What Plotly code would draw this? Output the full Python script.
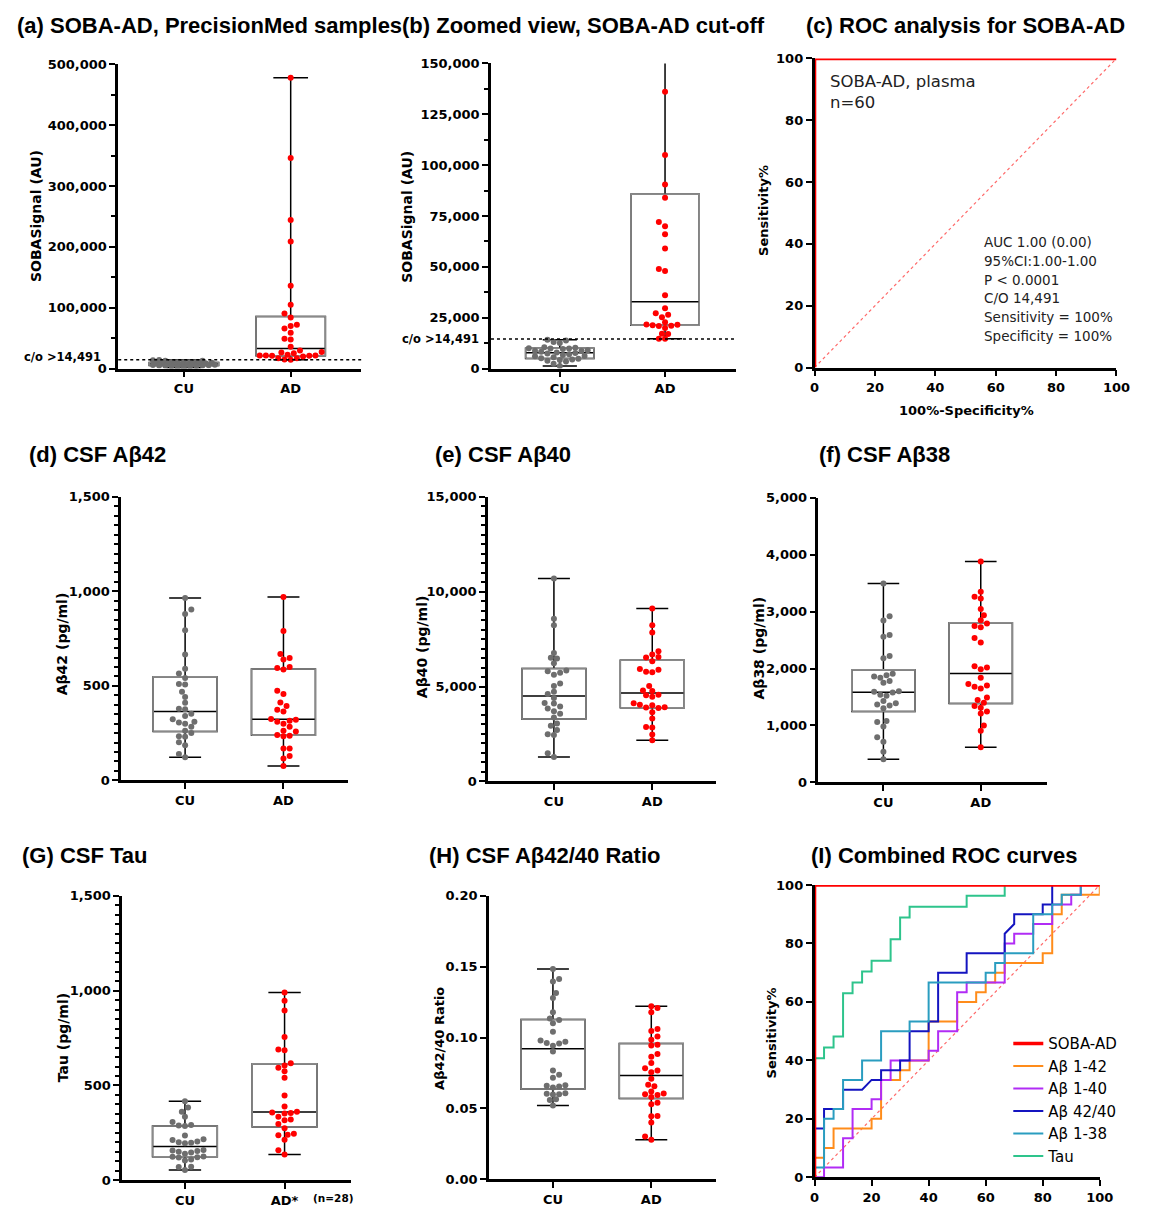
import numpy as np
import plotly.graph_objects as go

# page is 1159x1219; the browser adds an 8px body margin, so the figure is drawn inside it
PAGE_W, PAGE_H = 1159, 1219
OFF = 8
FW, FH = PAGE_W - OFF, PAGE_H - 2 * OFF

# ---------------- data ----------------
groups = ["CU", "AD"]
groups_tau = ["CU", "AD*"]
CUTOFF = 14491

soba_cu = [14200, 13800, 13000, 12600, 10500, 10200, 10000, 9900, 9800, 9600, 9000, 8800, 8600, 8200, 7900,
           7600, 7400, 7000, 6600, 6200, 6000, 5600, 5000, 4800, 4500, 4200, 3800, 3500, 2400, 1300]
soba_ad = [478000, 346000, 244000, 209000, 136000, 105000, 90500, 84000, 72000, 70000, 66000, 59000, 48900,
           47900, 36000, 29600, 27200, 26400, 25200, 22800, 21600, 21500, 21300, 21000, 20900, 19900, 17100,
           17000, 14700, 14600]

ab42_cu = [122, 139, 186, 202, 231, 233, 250, 262, 283, 300, 306, 310, 323, 340, 353, 376, 379, 410, 441, 469,
           507, 510, 542, 565, 591, 666, 794, 881, 904, 965]
ab42_ad = [76, 116, 129, 169, 169, 233, 236, 240, 258, 263, 283, 300, 310, 315, 321, 325, 365, 374, 393, 412,
           457, 474, 587, 595, 600, 640, 648, 669, 791, 970]

ab40_cu = [1285, 1476, 2450, 2480, 2708, 2934, 3055, 3368, 3559, 3700, 3837, 3941, 4100, 4130, 4400, 4600, 4722,
           5034, 5156, 5625, 5730, 5800, 5850, 6232, 6480, 6520, 6770, 8229, 8576, 10694]
ab40_ad = [2170, 2465, 2835, 2860, 3316, 3646, 3870, 3889, 3910, 4015, 4040, 4114, 4462, 4540, 4560, 4760, 4790,
           5034, 5750, 5780, 5880, 5920, 6336, 6530, 6560, 6684, 6857, 7847, 8229, 9114]

ab38_cu = [405, 538, 711, 792, 983, 1060, 1080, 1300, 1350, 1370, 1390, 1428, 1520, 1540, 1580, 1590, 1600,
           1750, 1780, 1840, 1860, 1880, 1910, 2180, 2220, 2560, 2590, 2844, 2919, 3497]
ab38_ad = [618, 907, 1000, 1208, 1243, 1310, 1340, 1400, 1445, 1490, 1650, 1680, 1700, 1730, 1838, 1988, 2020,
           2040, 2457, 2537, 2728, 2750, 2790, 2850, 2936, 3046, 3230, 3260, 3352, 3884]

tau_cu = [54, 70, 72, 105, 110, 120, 122, 124, 126, 140, 146, 150, 155, 157, 160, 196, 198, 200, 205, 212, 216,
          236, 286, 289, 292, 308, 335, 362, 384, 417]
tau_ad = [136, 158, 214, 238, 240, 245, 275, 297, 316, 320, 335, 352, 355, 358, 362, 389, 447, 541, 575, 593,
          605, 617, 686, 690, 756, 895, 947, 991]

ratio_cu = [0.0521, 0.0560, 0.0565, 0.0598, 0.0600, 0.0604, 0.0608, 0.0648, 0.0655, 0.0660, 0.0663, 0.0716,
            0.0737, 0.0767, 0.0902, 0.0942, 0.0958, 0.0962, 0.0970, 0.0980, 0.1042, 0.1102, 0.1125, 0.1135,
            0.1179, 0.1279, 0.1314, 0.1395, 0.1414, 0.1484]
ratio_ad = [0.0279, 0.0302, 0.0400, 0.0445, 0.0447, 0.0530, 0.0540, 0.0580, 0.0595, 0.0600, 0.0605, 0.0620,
            0.0656, 0.0667, 0.0709, 0.0756, 0.0767, 0.0784, 0.0821, 0.0865, 0.0884, 0.0944, 0.0950, 0.0984,
            0.1007, 0.1046, 0.1060, 0.1179, 0.1209, 0.1221]

# ROC curves (100%-Specificity%, Sensitivity%)
roc_soba_x = [0, 0, 100]
roc_soba_y = [0, 100, 100]
roc_ab42_x = [0, 0, 3.33, 3.33, 6.67, 6.67, 20, 20, 23.33, 23.33, 30, 30, 33.33, 33.33, 40, 40, 50, 50, 56.67,
              56.67, 60, 60, 63.33, 63.33, 66.67, 66.67, 80, 80, 83.33, 83.33, 86.67, 86.67, 100, 100]
roc_ab42_y = [0, 6.67, 6.67, 10, 10, 16.67, 16.67, 20, 20, 33.33, 33.33, 36.67, 36.67, 40, 40, 53.33, 53.33, 60,
              60, 63.33, 63.33, 66.67, 66.67, 70, 70, 73.33, 73.33, 76.67, 76.67, 90, 90, 96.67, 96.67, 100]
roc_ab40_x = [0, 3.33, 3.33, 10, 10, 13.33, 13.33, 20, 20, 23.33, 23.33, 26.67, 26.67, 40, 40, 43.33, 43.33, 50,
              50, 53.33, 53.33, 66.67, 66.67, 70, 70, 76.67, 76.67, 83.33, 83.33, 90, 90, 93.33, 93.33, 100]
roc_ab40_y = [0, 0, 3.33, 3.33, 13.33, 13.33, 23.33, 23.33, 26.67, 26.67, 33.33, 33.33, 40, 40, 43.33, 43.33,
              50, 50, 63.33, 63.33, 66.67, 66.67, 80, 80, 83.33, 83.33, 86.67, 86.67, 93.33, 93.33, 96.67,
              96.67, 100, 100]
roc_ratio_x = [0, 0, 3.33, 3.33, 10, 10, 16.67, 20, 23.33, 23.33, 30, 30, 33.33, 33.33, 40, 40, 43.33, 43.33,
               53.33, 53.33, 66.67, 66.67, 70, 70, 80, 80, 83.33, 83.33, 100]
roc_ratio_y = [0, 16.67, 16.67, 23.33, 23.33, 30, 30, 33.33, 33.33, 36.67, 36.67, 40, 40, 50, 50, 53.33, 53.33,
               70, 70, 76.67, 76.67, 83.33, 86.67, 90, 90, 93.33, 93.33, 100, 100]
roc_ab38_x = [0, 0, 3.33, 3.33, 6.67, 6.67, 10, 10, 16.67, 16.67, 23.33, 23.33, 33.33, 33.33, 40, 40, 60, 60,
              63.33, 63.33, 66.67, 66.67, 76.67, 76.67, 83.33, 83.33, 86.67, 86.67, 93.33, 93.33, 100]
roc_ab38_y = [0, 3.33, 3.33, 20, 20, 23.33, 23.33, 33.33, 33.33, 40, 40, 50, 50, 53.33, 53.33, 66.67, 66.67, 70,
              70, 73.33, 73.33, 76.67, 76.67, 90, 90, 93.33, 93.33, 96.67, 96.67, 100, 100]
roc_tau_x = [0, 0, 3.33, 3.33, 6.67, 6.67, 10, 10, 13.33, 13.33, 16.67, 16.67, 20, 20, 26.67, 26.67, 30, 30,
             33.33, 33.33, 53.33, 53.33, 66.67, 66.67, 100]
roc_tau_y = [0, 40.74, 40.74, 44.44, 44.44, 48.15, 48.15, 62.96, 62.96, 66.67, 66.67, 70.37, 70.37, 74.07,
             74.07, 81.48, 81.48, 88.89, 88.89, 92.59, 92.59, 96.30, 96.30, 100, 100]
IDENTITY = [0, 100]

soba_stats = ["AUC 1.00 (0.00)", "95%CI:1.00-1.00", "P < 0.0001", "C/O 14,491",
              "Sensitivity = 100%", "Specificity = 100%"]

# ---------------- styling ----------------
RED = "#ff0000"
GRAY = "#6e6e6e"
EDGE = "#8a8a8a"
BOXW = 0.65
TICKFONT = dict(family="DejaVu Sans", size=13, color="black", weight="bold")
TITLEFONT = dict(family="Liberation Sans", size=22, color="black")
BOTTOM_SHIFT = 3   # bottom row nudged up so its labels stay inside the page


def adj_y(y):
    return y - BOTTOM_SHIFT if y > 840 else y


def fx(x):
    return (x - OFF) / FW


def fy(y):
    return 1 - (adj_y(y) - OFF) / FH


def swarm_offsets(values, ppu_y, ppu_x, d=6.3, maxw=34):
    """Bee-swarm horizontal offsets (pixel space) converted to data units."""
    v = np.asarray(values, float)
    ys = v * ppu_y
    order = np.argsort(ys)
    py_l, px_l = [], []
    out = np.zeros(len(v))
    step = d / 2
    flip = 1
    kmax = int(maxw / step)
    for i in order:
        best, best_score = 0.0, -1
        chosen = None
        for k in range(kmax + 1):
            cands = [0.0] if k == 0 else [flip * k * step, -flip * k * step]
            for c in cands:
                dmin = min([(a - ys[i]) ** 2 + (b - c) ** 2 for a, b in zip(py_l, px_l)] or [1e9])
                if dmin >= 0.8 * d * d:
                    chosen = c
                    break
                if dmin > best_score:
                    best, best_score = c, dmin
            if chosen is not None:
                break
        if chosen is None:
            chosen = best
        flip = -flip
        out[i] = chosen
        py_l.append(ys[i])
        px_l.append(chosen)
    return out / ppu_x


fig = go.Figure()
layout = dict(width=FW, height=FH, autosize=False, margin=dict(l=0, r=0, t=0, b=0), paper_bgcolor="white",
              plot_bgcolor="white", showlegend=True)

axis_base = dict(showline=True, linecolor="black", linewidth=2.5, ticks="outside", ticklen=6, tickwidth=2,
                 tickcolor="black", showgrid=False, zeroline=False, tickfont=TICKFONT, fixedrange=True)

box_panels = [
    dict(ax=1, box=(115, 58, 362, 366), xr=[-0.615, 1.66], yr=[0, 500000], dtick=100000, minor=50000,
         fmt=",d", cu=soba_cu, ad=soba_ad, labels=groups),
    dict(ax=2, box=(494, 57, 743, 366), xr=[-0.654, 1.673], yr=[0, 150000], dtick=25000, minor=12500,
         fmt=",d", cu=soba_cu, ad=soba_ad, labels=groups),
    dict(ax=4, box=(118, 496, 349, 783), xr=[-0.65, 1.66], yr=[0, 1500], dtick=500, minor=50,
         fmt=",d", cu=ab42_cu, ad=ab42_ad, labels=groups),
    dict(ax=5, box=(491, 496, 723, 784), xr=[-0.67, 1.65], yr=[0, 15000], dtick=5000, minor=500,
         fmt=",d", cu=ab40_cu, ad=ab40_ad, labels=groups),
    dict(ax=6, box=(827, 497, 1059, 785), xr=[-0.667, 1.677], yr=[0, 5000], dtick=1000, minor=None,
         fmt=",d", cu=ab38_cu, ad=ab38_ad, labels=groups),
    dict(ax=7, box=(119, 903, 352, 1191), xr=[-0.63, 1.67], yr=[0, 1500], dtick=500, minor=50,
         fmt=",d", cu=tau_cu, ad=tau_ad, labels=groups_tau),
    dict(ax=8, box=(492, 903, 723, 1190), xr=[-0.65, 1.66], yr=[0, 0.2], dtick=0.05, minor=None,
         fmt=".2f", cu=ratio_cu, ad=ratio_ad, labels=groups),
]

for p in box_panels:
    n = p["ax"]
    xa, ya = f"x{n}", f"y{n}"
    x0, y0, x1, y1 = p["box"]
    ppu_y = (y1 - y0) / (p["yr"][1] - p["yr"][0])
    ppu_x = (x1 - x0) / (p["xr"][1] - p["xr"][0])
    xaxis = dict(axis_base, domain=[fx(x0), fx(x1)], range=p["xr"], anchor=ya, tickvals=[0, 1],
                 ticktext=p["labels"])
    yaxis = dict(axis_base, domain=[fy(y1), fy(y0)], range=p["yr"], anchor=xa, tick0=0, dtick=p["dtick"],
                 tickformat=p["fmt"], ticklen=6)
    if p["minor"]:
        yaxis["minor"] = dict(ticks="outside", ticklen=4, tickwidth=1.5, tickcolor="black", dtick=p["minor"],
                              tick0=0)
    layout["xaxis" if n == 1 else f"xaxis{n}"] = xaxis
    layout["yaxis" if n == 1 else f"yaxis{n}"] = yaxis
    for gi, (vals, col) in enumerate([(p["cu"], GRAY), (p["ad"], RED)]):
        v = np.asarray(vals, float)
        q1, med, q3 = np.percentile(v, [25, 50, 75], method="weibull")
        fig.add_trace(go.Box(x=[gi], q1=[q1], median=[med], q3=[q3], lowerfence=[v.min()], upperfence=[v.max()],
                             width=BOXW, whiskerwidth=0.5, fillcolor="white", boxpoints=False,
                             line=dict(color="black", width=1.5), xaxis=xa, yaxis=ya, showlegend=False,
                             hoverinfo="skip"))
        fig.add_trace(go.Scatter(x=[gi - BOXW / 2, gi + BOXW / 2, gi + BOXW / 2, gi - BOXW / 2, gi - BOXW / 2],
                                 y=[q1, q1, q3, q3, q1], mode="lines", line=dict(color=EDGE, width=1.5),
                                 xaxis=xa, yaxis=ya, showlegend=False, hoverinfo="skip"))
        off = swarm_offsets(v, ppu_y, ppu_x)
        fig.add_trace(go.Scatter(x=gi + off, y=v, mode="markers", marker=dict(size=6, color=col),
                                 xaxis=xa, yaxis=ya, showlegend=False, hoverinfo="skip"))

# ROC panels
roc_panels = [dict(ax=3, box=(823, 52, 1130, 365)), dict(ax=9, box=(823, 892, 1113, 1188))]
for p in roc_panels:
    n = p["ax"]
    x0, y0, x1, y1 = p["box"]
    layout[f"xaxis{n}"] = dict(axis_base, domain=[fx(x0), fx(x1)], range=[0, 100], anchor=f"y{n}", tick0=0,
                               dtick=20)
    layout[f"yaxis{n}"] = dict(axis_base, domain=[fy(y1), fy(y0)], range=[0, 100], anchor=f"x{n}", tick0=0,
                               dtick=20)
    fig.add_trace(go.Scatter(x=IDENTITY, y=IDENTITY, mode="lines", line=dict(color="#ff6a6a", width=1.2,
                             dash="dot"), xaxis=f"x{n}", yaxis=f"y{n}", showlegend=False, hoverinfo="skip"))

roc_series = [
    ("Aβ 1-42", roc_ab42_x, roc_ab42_y, "#ff8c1a", 2),
    ("Aβ 1-40", roc_ab40_x, roc_ab40_y, "#b12cf5", 3),
    ("Aβ 42/40", roc_ratio_x, roc_ratio_y, "#1414c0", 4),
    ("Aβ 1-38", roc_ab38_x, roc_ab38_y, "#2a9dc0", 5),
    ("Tau", roc_tau_x, roc_tau_y, "#2ec48c", 6),
]
for name, xs, ys, col, rank in roc_series:
    fig.add_trace(go.Scatter(x=xs, y=ys, mode="lines", name=name, line=dict(color=col, width=2),
                             xaxis="x9", yaxis="y9", legendrank=rank, legendgroup=name, hoverinfo="skip"))
fig.add_trace(go.Scatter(x=roc_soba_x, y=roc_soba_y, mode="lines", name="SOBA-AD",
                         line=dict(color=RED, width=3.5), xaxis="x9", yaxis="y9", legendrank=1,
                         legendgroup="SOBA-AD", cliponaxis=False, hoverinfo="skip"))
fig.add_trace(go.Scatter(x=roc_soba_x, y=roc_soba_y, mode="lines", line=dict(color=RED, width=3.5),
                         xaxis="x3", yaxis="y3", showlegend=False, cliponaxis=False, hoverinfo="skip"))

layout["legend"] = dict(x=fx(1020), y=fy(1036), xanchor="left", yanchor="top",
                        font=dict(family="DejaVu Sans", size=15, color="black"), bgcolor="rgba(0,0,0,0)",
                        tracegroupgap=0, traceorder="grouped", itemwidth=30)

# cut-off lines
shapes = []
annotations = []
for ax, lab_x, ysh in [("", 100, 3), ("2", 484, 0)]:
    shapes.append(dict(type="line", xref=f"x{ax} domain", x0=0, x1=1, yref=f"y{ax}", y0=CUTOFF, y1=CUTOFF,
                       line=dict(color="black", width=1.6, dash="dot")))
    annotations.append(dict(text="c/o >14,491", xref="paper", x=fx(lab_x), xanchor="right", yref=f"y{ax}",
                            y=CUTOFF, yanchor="middle", yshift=ysh, showarrow=False,
                            font=dict(family="DejaVu Sans", size=11.5, color="black", weight="bold")))

# panel titles
titles = [("(a) SOBA-AD, PrecisionMed samples", 10, 19), ("(b) Zoomed view, SOBA-AD cut-off", 401, 19),
          ("(c) ROC analysis for SOBA-AD", 812, 19), ("(d) CSF Aβ42", 22, 453), ("(e) CSF Aβ40", 435, 453),
          ("(f) CSF Aβ38", 825, 453), ("(G) CSF Tau", 15, 862), ("(H) CSF Aβ42/40 Ratio", 429, 862),
          ("(I) Combined ROC curves", 817, 862)]
for t, x, y in titles:
    annotations.append(dict(text=f"<b>{t}</b>", xref="paper", yref="paper", x=fx(x), y=fy(y), xanchor="left",
                            yanchor="middle", showarrow=False, font=TITLEFONT))

# axis titles
ytitles = [("SOBASignal (AU)", 32, 212, 14), ("SOBASignal (AU)", 409, 212, 14), ("Sensitivity%", 771, 206, 13),
           ("Aβ42 (pg/ml)", 58, 645, 14), ("Aβ40 (pg/ml)", 424, 648, 14), ("Aβ38 (pg/ml)", 767, 649, 14),
           ("Tau (pg/ml)", 59, 1047, 14), ("Aβ42/40 Ratio", 441, 1047, 13), ("Sensitivity%", 779, 1042, 13)]
for t, x, y, s in ytitles:
    annotations.append(dict(text=t, xref="paper", yref="paper", x=fx(x), y=fy(y), xanchor="center",
                            yanchor="middle", textangle=-90, showarrow=False,
                            font=dict(family="DejaVu Sans", size=s, color="black", weight="bold")))
annotations.append(dict(text="100%-Specificity%", xref="paper", yref="paper", x=fx(978), y=fy(408),
                        xanchor="center", yanchor="middle", showarrow=False,
                        font=dict(family="DejaVu Sans", size=13, color="black", weight="bold")))
annotations.append(dict(text="(n=28)", xref="paper", yref="paper", x=fx(333), y=fy(1209), xanchor="center",
                        yanchor="middle", showarrow=False,
                        font=dict(family="DejaVu Sans", size=10.5, color="black", weight="bold")))

# ROC (c) text
annotations.append(dict(text="SOBA-AD, plasma", xref="paper", yref="paper", x=fx(837), y=fy(75),
                        xanchor="left", yanchor="middle", showarrow=False,
                        font=dict(family="DejaVu Sans", size=16.5, color="#222")))
annotations.append(dict(text="n=60", xref="paper", yref="paper", x=fx(837), y=fy(97),
                        xanchor="left", yanchor="middle", showarrow=False,
                        font=dict(family="DejaVu Sans", size=16.5, color="#222")))
for i, line in enumerate(soba_stats):
    annotations.append(dict(text=line, xref="paper", yref="paper", x=fx(993), y=fy(238 + 19 * i),
                            xanchor="left", yanchor="middle", showarrow=False,
                            font=dict(family="DejaVu Sans", size=13.5, color="#222")))

layout["shapes"] = shapes
layout["annotations"] = annotations
fig.update_layout(**layout)
fig.write_html("out.html", config={"responsive": False, "displayModeBar": False})
